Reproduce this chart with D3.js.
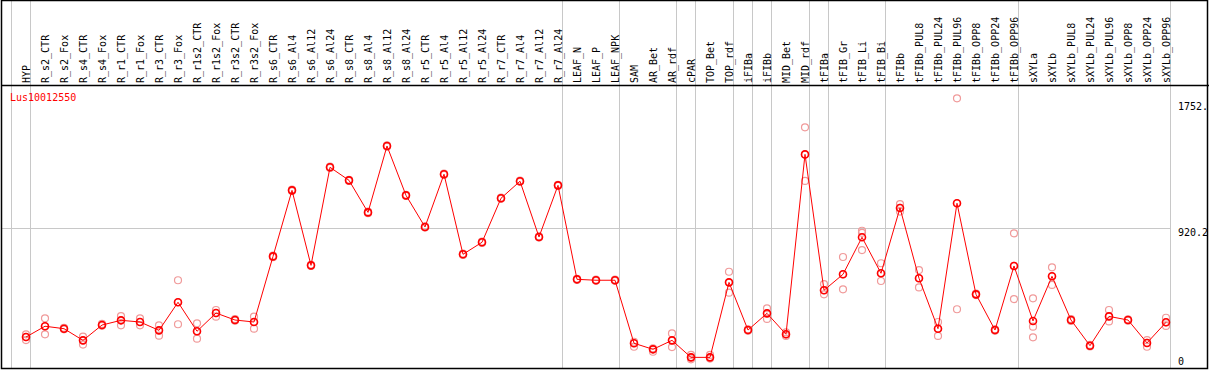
<!DOCTYPE html>
<html>
<head>
<meta charset="utf-8">
<script src="https://cdn.jsdelivr.net/npm/d3@7"></script>
<style>
  body { margin: 0; background: #fff; }
  svg text { font-family: "DejaVu Sans Mono", monospace; font-size: 10px; }
</style>
</head>
<body>
<svg id="chart" width="1209" height="370"></svg>
<script>
// sample names (columns)
var samples = ["HYP","R_s2_CTR","R_s2_Fox","R_s4_CTR","R_s4_Fox","R_r1_CTR","R_r1_Fox","R_r3_CTR","R_r3_Fox",
  "R_r1s2_CTR","R_r1s2_Fox","R_r3s2_CTR","R_r3s2_Fox","R_s6_CTR","R_s6_Al4","R_s6_Al12","R_s6_Al24",
  "R_s8_CTR","R_s8_Al4","R_s8_Al12","R_s8_Al24","R_r5_CTR","R_r5_Al4","R_r5_Al12","R_r5_Al24",
  "R_r7_CTR","R_r7_Al4","R_r7_Al12","R_r7_Al24","LEAF_N","LEAF_P","LEAF_NPK","SAM","AR_Bet","AR_rdf",
  "cPAR","TOP_Bet","TOP_rdf","iFIBa","iFIBb","MID_Bet","MID_rdf","tFIBa","tFIB_Gr","tFIB_Li","tFIB_Bi",
  "tFIBb","tFIBb_PUL8","tFIBb_PUL24","tFIBb_PUL96","tFIBb_OPP8","tFIBb_OPP24","tFIBb_OPP96",
  "sXYLa","sXYLb","sXYLb_PUL8","sXYLb_PUL24","sXYLb_PUL96","sXYLb_OPP8","sXYLb_OPP24","sXYLb_OPP96"];

// mean expression per sample
var means = [204,275,259,182,283,314,303,248,433,242,362,316,303,735,1170,676,1322,1236,1025,1462,
  1137,929,1276,749,828,1118,1230,863,1203,584,578,578,163,123,182,70,70,564,250,360,222,1407,
  512,617,861,624,1054,591,259,1085,485,250,672,310,604,316,147,340,316,165,301];

// replicate values per sample
var reps = [[222,184,204],[327,222,275],[265,255,259],[206,154,182],[290,278,283],[342,281,314],
  [327,281,303],[281,213,248],[578,288,433],[294,193,242],[382,338,362],[322,312,316],[338,259,303],
  [740,730,735],[1175,1165,1170],[680,672,676],[1326,1318,1322],[1240,1232,1236],[1030,1020,1025],
  [1466,1458,1462],[1141,1133,1137],[933,925,929],[1280,1272,1276],[753,745,749],[832,824,828],
  [1122,1114,1118],[1234,1226,1230],[867,859,863],[1207,1199,1203],[588,580,584],[582,574,578],
  [582,574,578],[173,140,163],[107,130,123],[228,138,182],[86,57,70],[86,62,70],[634,496,564],
  [255,245,250],[393,323,360],[235,211,222],[1585,1232,1407],[553,485,512],[731,518,617],
  [904,890,777],[690,573,624],[1080,1030,1054],[645,531,591],[303,211,259],[1776,387,1085],
  [490,480,485],[255,245,250],[887,454,672],[459,272,202],[663,547,604],[322,310,316],
  [152,142,147],[382,307,340],[320,312,316],[184,140,165],[331,277,301]];

// group boundaries: gridline after these column indexes
var groupEnds = [-1,0,28,31,34,35,37,38,39,41,42,45,52,60];

var yTicks = [0,920.2,1752];
var yTickLabels = ["0","920.2","1752."];
var geneName = "Lus10012550";

var svg = d3.select("#chart");
var W = 1209, H = 370;
var headerBottom = 85, plotBottom = 368, plotRight = 1170.5;

var x = d3.scaleLinear().domain([0, samples.length-1]).range([26, 26 + 19*(samples.length-1)]);
var y = d3.scaleLinear().domain([0, 1752]).range([368, 102]);

// vertical gridlines
svg.selectAll("line.vgrid").data(groupEnds).enter().append("line")
  .attr("x1", d => x(d) + 4.5).attr("x2", d => x(d) + 4.5)
  .attr("y1", 0).attr("y2", plotBottom)
  .attr("stroke", "#c8c8c8").attr("stroke-width", 1);

// horizontal gridline at the middle tick
svg.append("line")
  .attr("x1", 1).attr("x2", plotRight)
  .attr("y1", Math.round(y(920.2)) + 0.5).attr("y2", Math.round(y(920.2)) + 0.5)
  .attr("stroke", "#c8c8c8");

// frame
svg.append("rect").attr("x", 1.5).attr("y", 0.5).attr("width", W - 3).attr("height", plotBottom)
  .attr("fill", "none").attr("stroke", "#000").attr("stroke-width", 1.5);
svg.append("line").attr("x1", 1).attr("x2", W).attr("y1", headerBottom + 0.5).attr("y2", headerBottom + 0.5)
  .attr("stroke", "#000").attr("stroke-width", 1.5);

// column labels (vertical)
svg.selectAll("text.col").data(samples).enter().append("text")
  .attr("class", "col")
  .attr("transform", (d, i) => "translate(" + (x(i) + 3.5) + "," + (headerBottom - 2) + ") rotate(-90)")
  .attr("fill", "#000")
  .text(d => d);

// y tick labels
svg.selectAll("text.ytick").data(yTicks).enter().append("text")
  .attr("class", "ytick")
  .attr("x", 1178)
  .attr("y", d => Math.min(y(d) + 8, 365))
  .attr("fill", "#000")
  .text((d, i) => yTickLabels[i]);

// gene name
svg.append("text").attr("x", 10).attr("y", 101).attr("fill", "#ff0000").text(geneName);

// replicate points
var repPts = [];
reps.forEach(function(r, i) { r.forEach(function(v) { repPts.push({i: i, v: v}); }); });
svg.selectAll("circle.rep").data(repPts).enter().append("circle")
  .attr("cx", d => x(d.i)).attr("cy", d => y(d.v)).attr("r", 3.5)
  .attr("fill", "none").attr("stroke", "#f09a9a").attr("stroke-width", 1.2);

// mean line
var line = d3.line().x((d, i) => x(i)).y(d => y(d));
svg.append("path").datum(means).attr("d", line)
  .attr("fill", "none").attr("stroke", "#ff0000").attr("stroke-width", 1);

// mean points
svg.selectAll("circle.mean").data(means).enter().append("circle")
  .attr("cx", (d, i) => x(i)).attr("cy", d => y(d)).attr("r", 3.5)
  .attr("fill", "none").attr("stroke", "#ff0000").attr("stroke-width", 1.6);
</script>
</body>
</html>
